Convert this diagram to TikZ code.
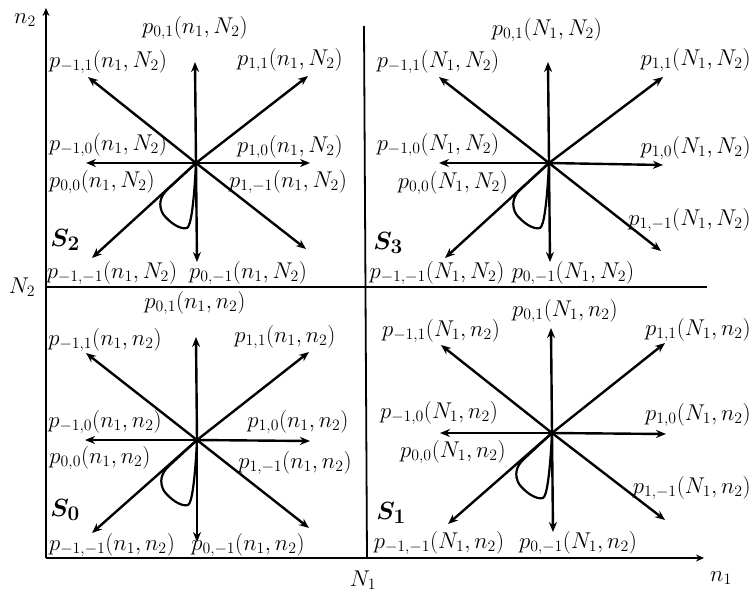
\documentclass[tikz,border=0pt]{standalone}
\usepackage{bm}
\usetikzlibrary{arrows.meta}
\begin{document}
\begin{tikzpicture}[x=1pt,y=-1pt,
  axis/.style={line width=1.8pt},
  arr/.style={line width=2.4pt,-{Stealth[length=10pt,width=8pt]}},
  lbl/.style={font=\huge,inner sep=0pt,scale=1.1},
  slbl/.style={font=\Huge,inner sep=0pt},
  looppath/.style={line width=2.2pt,line join=round},
  selfloop/.pic={\draw[looppath] (0,0) -- (-28,26) .. controls (-36,33) and (-38,42) .. (-33,51) .. controls (-27,59) and (-16,67) .. (-9,65) .. controls (-5,63) and (-2,40) .. (0,0);}]
\useasboundingbox (0,0) rectangle (752,592);
% axes and borders
\coordinate (O) at (46,558);
\coordinate (ytop) at (46,8);
\coordinate (xend) at (704,558);
\coordinate (hL) at (46,287);
\coordinate (hR) at (707,287);
\coordinate (vT) at (364,26);
\coordinate (vB) at (367,558);
\draw[axis,-{Stealth[length=8pt,width=7pt]}] (O) -- (ytop);
\draw[axis,-{Stealth[length=8pt,width=7pt]}] (O) -- (xend);
\draw[axis] (hL) -- (hR);
\draw[axis] (vT) -- (vB);
\node[lbl] (ln2) at (25,20) {$n_2$};
\node[lbl] (lN2) at (22,287) {$N_2$};
\node[lbl] (lN1) at (363,580) {$N_1$};
\node[lbl] (ln1) at (721,578) {$n_1$};

% ---------- S2 (top left)
\coordinate (c2) at (196,163);
\coordinate (c2u) at (195,62);
\coordinate (c2d) at (197,262);
\coordinate (c2l) at (86,163);
\coordinate (c2r) at (310,163);
\coordinate (c2ul) at (88,77);
\coordinate (c2ur) at (308,76);
\coordinate (c2ll) at (92,258);
\coordinate (c2lr) at (306,249);
\foreach \t in {u,d,l,r,ul,ur,ll,lr} \draw[arr] (c2) -- (c2\t);
\pic at (c2) {selfloop};
\node[lbl] (s2a) at (195,28) {$p_{0,1}(n_1,N_2)$};
\node[lbl] (s2b) at (108,62) {$p_{-1,1}(n_1,N_2)$};
\node[lbl] (s2c) at (290,60) {$p_{1,1}(n_1,N_2)$};
\node[lbl] (s2d) at (108,145) {$p_{-1,0}(n_1,N_2)$};
\node[lbl] (s2e) at (290,147) {$p_{1,0}(n_1,N_2)$};
\node[lbl] (s2f) at (102,182) {$p_{0,0}(n_1,N_2)$};
\node[lbl] (s2g) at (288,182) {$p_{1,-1}(n_1,N_2)$};
\node[slbl] (s2s) at (65,240) {$\bm{S_2}$};
\node[lbl] (s2h) at (112,273) {$p_{-1,-1}(n_1,N_2)$};
\node[lbl] (s2i) at (248,273) {$p_{0,-1}(n_1,N_2)$};

% ---------- S3 (top right)
\coordinate (c3) at (549,163);
\coordinate (c3u) at (548,62);
\coordinate (c3d) at (550,262);
\coordinate (c3l) at (439,163);
\coordinate (c3r) at (663,165);
\coordinate (c3ul) at (439,77);
\coordinate (c3ur) at (663,77);
\coordinate (c3ll) at (445,258);
\coordinate (c3lr) at (661,251);
\foreach \t in {u,d,l,r,ul,ur,ll,lr} \draw[arr] (c3) -- (c3\t);
\pic at (c3) {selfloop};
\node[lbl] (s3a) at (547,30) {$p_{0,1}(N_1,N_2)$};
\node[lbl] (s3b) at (438,62) {$p_{-1,1}(N_1,N_2)$};
\node[lbl,anchor=east] (s3c) at (751,60) {$p_{1,1}(N_1,N_2)$};
\node[lbl] (s3d) at (438,145) {$p_{-1,0}(N_1,N_2)$};
\node[lbl,anchor=east] (s3e) at (751,148) {$p_{1,0}(N_1,N_2)$};
\node[lbl] (s3f) at (453,183) {$p_{0,0}(N_1,N_2)$};
\node[lbl,anchor=east] (s3g) at (751,220) {$p_{1,-1}(N_1,N_2)$};
\node[slbl] (s3s) at (388,243) {$\bm{S_3}$};
\node[lbl] (s3h) at (437,273) {$p_{-1,-1}(N_1,N_2)$};
\node[lbl] (s3i) at (573,273) {$p_{0,-1}(N_1,N_2)$};

% ---------- S0 (bottom left)
\coordinate (c0) at (197,440);
\coordinate (c0u) at (196,337);
\coordinate (c0d) at (197,542);
\coordinate (c0l) at (85,440);
\coordinate (c0r) at (310,441);
\coordinate (c0ul) at (86,353);
\coordinate (c0ur) at (309,352);
\coordinate (c0ll) at (92,533);
\coordinate (c0lr) at (309,528);
\foreach \t in {u,d,l,r,ul,ur,ll,lr} \draw[arr] (c0) -- (c0\t);
\pic at (c0) {selfloop};
\node[lbl] (s0a) at (195,303) {$p_{0,1}(n_1,n_2)$};
\node[lbl] (s0b) at (105,340) {$p_{-1,1}(n_1,n_2)$};
\node[lbl] (s0c) at (285,337) {$p_{1,1}(n_1,n_2)$};
\node[lbl] (s0d) at (105,422) {$p_{-1,0}(n_1,n_2)$};
\node[lbl] (s0e) at (298,422) {$p_{1,0}(n_1,n_2)$};
\node[lbl] (s0f) at (100,458) {$p_{0,0}(n_1,n_2)$};
\node[lbl] (s0g) at (295,463) {$p_{1,-1}(n_1,n_2)$};
\node[slbl] (s0s) at (65,510) {$\bm{S_0}$};
\node[lbl] (s0h) at (112,545) {$p_{-1,-1}(n_1,n_2)$};
\node[lbl] (s0i) at (248,545) {$p_{0,-1}(n_1,n_2)$};

% ---------- S1 (bottom right)
\coordinate (c1) at (552,433);
\coordinate (c1u) at (551,328);
\coordinate (c1d) at (553,532);
\coordinate (c1l) at (440,433);
\coordinate (c1r) at (666,434);
\coordinate (c1ul) at (441,345);
\coordinate (c1ur) at (665,343);
\coordinate (c1ll) at (448,524);
\coordinate (c1lr) at (665,520);
\foreach \t in {u,d,l,r,ul,ur,ll,lr} \draw[arr] (c1) -- (c1\t);
\pic at (c1) {selfloop};
\node[lbl] (s1a) at (565,311) {$p_{0,1}(N_1,n_2)$};
\node[lbl] (s1b) at (441,331) {$p_{-1,1}(N_1,n_2)$};
\node[lbl,anchor=east] (s1c) at (751,330) {$p_{1,1}(N_1,n_2)$};
\node[lbl] (s1d) at (439,413) {$p_{-1,0}(N_1,n_2)$};
\node[lbl,anchor=east] (s1e) at (751,415) {$p_{1,0}(N_1,n_2)$};
\node[lbl] (s1f) at (453,452) {$p_{0,0}(N_1,n_2)$};
\node[lbl,anchor=east] (s1g) at (751,488) {$p_{1,-1}(N_1,n_2)$};
\node[slbl] (s1s) at (391,513) {$\bm{S_1}$};
\node[lbl] (s1h) at (439,543) {$p_{-1,-1}(N_1,n_2)$};
\node[lbl] (s1i) at (578,543) {$p_{0,-1}(N_1,n_2)$};
\end{tikzpicture}
\end{document}
